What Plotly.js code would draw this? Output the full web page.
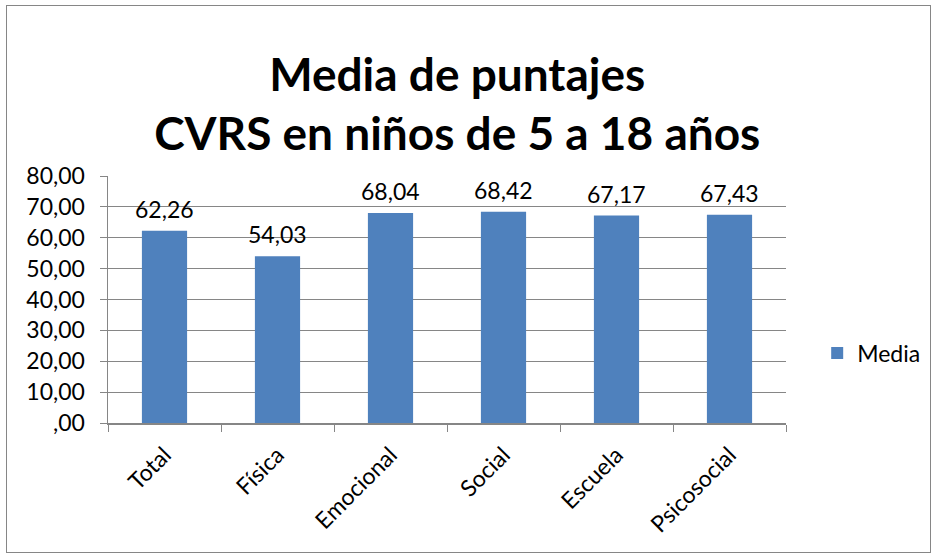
<!DOCTYPE html>
<html>
<head>
<meta charset="utf-8">
<script src="https://cdn.plot.ly/plotly-3.0.1.min.js"></script>
<style>
  html, body { margin: 0; padding: 0; background: #fff; }
  #wrap { position: absolute; left: 0; top: 0; width: 937px; height: 559px; }
  #frame { position: absolute; left: 6px; top: 5px; width: 923px; height: 546px; border: 1px solid #868686; pointer-events: none; }
  #chart { position: absolute; left: 0; top: 0; width: 937px; height: 559px; }
</style>
</head>
<body>
<div id="wrap">
  <div id="chart"></div>
  <div id="frame"></div>
</div>
<script>
const categories = ["Total", "Física", "Emocional", "Social", "Escuela", "Psicosocial"];
const media = [62.26, 54.03, 68.04, 68.42, 67.17, 67.43];
const seriesName = "Media";
const yTickVals = [0, 10, 20, 30, 40, 50, 60, 70, 80];
const yTickText = [",00", "10,00", "20,00", "30,00", "40,00", "50,00", "60,00", "70,00", "80,00"];

const labels = media.map(v => v.toFixed(2).replace('.', ','));
const FONT = "Lato, 'Open Sans', sans-serif";

const trace = {
  type: 'bar',
  x: categories,
  y: media,
  name: seriesName,
  marker: { color: '#4F81BD', line: { width: 0 } },
  showlegend: true,
  hoverinfo: 'none'
};

const annotations = categories.map((c, i) => ({
  x: c,
  y: media[i],
  xref: 'x',
  yref: 'y',
  text: labels[i],
  showarrow: false,
  yanchor: 'bottom',
  xanchor: 'center',
  yshift: 6,
  font: { family: FONT, size: 23, color: '#000' }
}));

const layout = {
  width: 937,
  height: 559,
  paper_bgcolor: '#fff',
  plot_bgcolor: '#fff',
  margin: { l: 108, r: 149, t: 176, b: 136 },
  bargap: 0.6,
  annotations: annotations,
  title: {
    text: '<b>Media de puntajes<br>CVRS en niños de 5 a 18 años</b>',
    font: { family: FONT, size: 46, color: '#000' },
    x: 0.488,
    xanchor: 'center',
    y: 0.838,
    yanchor: 'top'
  },
  xaxis: {
    type: 'category',
    tickangle: -45,
    ticks: 'outside',
    tickson: 'boundaries',
    ticklen: 7,
    tickcolor: '#868686',
    showline: true,
    linecolor: '#868686',
    linewidth: 1.5,
    showgrid: false,
    ticklabelstandoff: 8,
    tickfont: { family: FONT, size: 23, color: '#000' }
  },
  yaxis: {
    range: [0, 80],
    tickvals: yTickVals,
    ticktext: yTickText,
    ticks: 'outside',
    ticklen: 7,
    tickcolor: '#868686',
    showline: true,
    linecolor: '#868686',
    linewidth: 1.5,
    showgrid: true,
    gridcolor: '#868686',
    gridwidth: 1,
    zeroline: false,
    ticklabelstandoff: 10,
    tickfont: { family: FONT, size: 23, color: '#000' }
  },
  legend: {
    x: 1.046,
    xanchor: 'left',
    y: 0.283,
    yanchor: 'middle',
    font: { family: FONT, size: 23, color: '#000' },
    bgcolor: 'rgba(0,0,0,0)'
  },
  showlegend: true
};

Plotly.newPlot('chart', [trace], layout, { displayModeBar: false, staticPlot: true });
</script>
</body>
</html>
